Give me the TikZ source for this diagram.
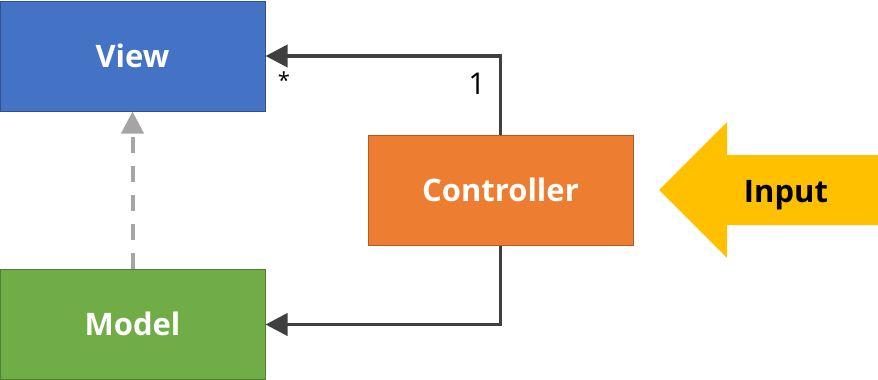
\documentclass[tikz,border=0pt]{standalone}
\usepackage{fontspec}
\setmainfont{Open Sans}
\usetikzlibrary{arrows.meta}
\definecolor{viewblue}{HTML}{4472C4}
\definecolor{viewborder}{HTML}{2F528F}
\definecolor{modelgreen}{HTML}{70AD47}
\definecolor{modelborder}{HTML}{507E32}
\definecolor{ctrlorange}{HTML}{ED7D31}
\definecolor{ctrlborder}{HTML}{AE5A21}
\definecolor{inputyellow}{HTML}{FFC000}
\definecolor{darkline}{HTML}{404040}
\definecolor{grayline}{HTML}{A5A5A5}
\begin{document}
\begin{tikzpicture}[x=1pt,y=-1pt,
  lbl/.style={inner sep=0pt, text height=22pt, text depth=0pt, font=\fontsize{31}{35}\selectfont\bfseries},
  box/.style={lbl, draw, line width=1pt, minimum width=265pt, minimum height=110pt, text=white},
  conn/.style={draw=darkline, line width=3.75pt, -{Triangle[length=22pt,width=22pt]}},
  dep/.style={draw=grayline, line width=4pt, dash pattern=on 16pt off 13pt, -{Triangle[length=22pt,width=22pt]}},
  mult/.style={text=black, font=\fontsize{30}{34}\selectfont, inner sep=0pt}]
\useasboundingbox (0,0) rectangle (878,380);
\node[box, fill=viewblue, draw=viewborder] (view) at (132.5,56) {View};
\node[box, fill=modelgreen, draw=modelborder] (model) at (132.5,324.5) {Model};
\node[box, fill=ctrlorange, draw=ctrlborder] (ctrl) at (500.5,190.5) {Controller};
\fill[inputyellow] (659,190) -- (727,122) -- (727,155) -- (878,155) -- (878,225) -- (727,225) -- (727,258) -- cycle;
\node[lbl, text=black] (input) at (786,191) {Input};
\draw[conn] (ctrl.north) |- (view.east);
\draw[conn] (ctrl.south) |- (model.east);
\draw[dep] (model.north) -- (view.south);
\node[mult, font=\fontsize{22}{26}\selectfont] (star) at (284,80) {*};
\node[mult] (one) at (477,84) {1};
\end{tikzpicture}
\end{document}
